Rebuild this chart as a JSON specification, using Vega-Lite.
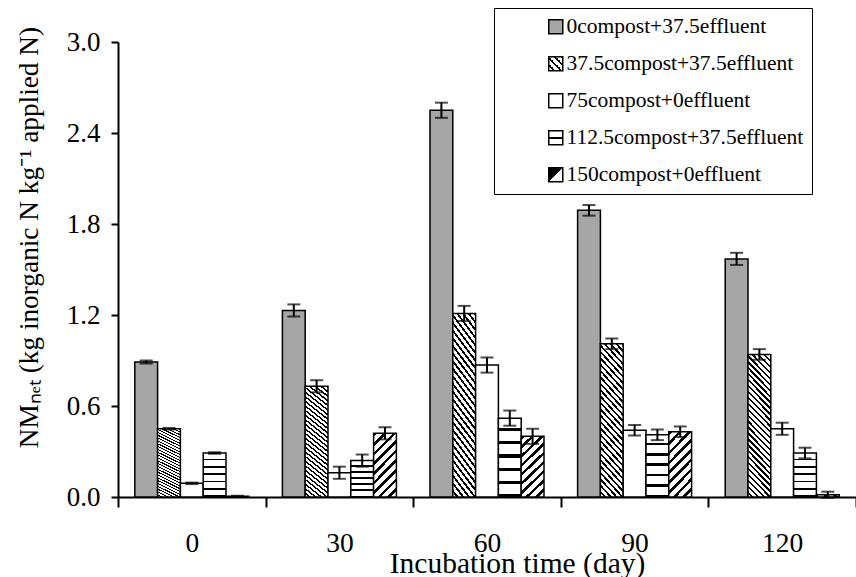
{
  "$schema": "https://vega.github.io/schema/vega-lite/v6.json",
  "width": 738,
  "height": 455,
  "autosize": {"type": "none"},
  "padding": {"left": 118, "top": 42, "right": 0, "bottom": 80},
  "background": "white",
  "config": {"view": {"stroke": null}, "font": "Liberation Serif"},
  "data": {
    "values": [
      {"day": 0, "trt": "0compost+37.5effluent", "value": 0.89, "err": 0.01},
      {"day": 0, "trt": "37.5compost+37.5effluent", "value": 0.45, "err": 0.005},
      {"day": 0, "trt": "75compost+0effluent", "value": 0.09, "err": 0.005},
      {"day": 0, "trt": "112.5compost+37.5effluent", "value": 0.29, "err": 0.005},
      {"day": 0, "trt": "150compost+0effluent", "value": 0.005, "err": 0.003},
      {"day": 30, "trt": "0compost+37.5effluent", "value": 1.23, "err": 0.04},
      {"day": 30, "trt": "37.5compost+37.5effluent", "value": 0.73, "err": 0.04},
      {"day": 30, "trt": "75compost+0effluent", "value": 0.16, "err": 0.04},
      {"day": 30, "trt": "112.5compost+37.5effluent", "value": 0.24, "err": 0.04},
      {"day": 30, "trt": "150compost+0effluent", "value": 0.42, "err": 0.04},
      {"day": 60, "trt": "0compost+37.5effluent", "value": 2.55, "err": 0.05},
      {"day": 60, "trt": "37.5compost+37.5effluent", "value": 1.21, "err": 0.05},
      {"day": 60, "trt": "75compost+0effluent", "value": 0.87, "err": 0.05},
      {"day": 60, "trt": "112.5compost+37.5effluent", "value": 0.52, "err": 0.05},
      {"day": 60, "trt": "150compost+0effluent", "value": 0.40, "err": 0.05},
      {"day": 90, "trt": "0compost+37.5effluent", "value": 1.89, "err": 0.035},
      {"day": 90, "trt": "37.5compost+37.5effluent", "value": 1.01, "err": 0.035},
      {"day": 90, "trt": "75compost+0effluent", "value": 0.44, "err": 0.035},
      {"day": 90, "trt": "112.5compost+37.5effluent", "value": 0.41, "err": 0.035},
      {"day": 90, "trt": "150compost+0effluent", "value": 0.43, "err": 0.035},
      {"day": 120, "trt": "0compost+37.5effluent", "value": 1.57, "err": 0.04},
      {"day": 120, "trt": "37.5compost+37.5effluent", "value": 0.94, "err": 0.035},
      {"day": 120, "trt": "75compost+0effluent", "value": 0.45, "err": 0.04},
      {"day": 120, "trt": "112.5compost+37.5effluent", "value": 0.29, "err": 0.035},
      {"day": 120, "trt": "150compost+0effluent", "value": 0.015, "err": 0.02}
    ]
  },
  "encoding": {
    "x": {
      "field": "day", "type": "ordinal",
      "scale": {"paddingInner": 0, "paddingOuter": 0},
      "axis": {
        "title": "Incubation time (day)",
        "labelAngle": 0, "tickBand": "extent", "tickSize": 10, "tickWidth": 2, "tickColor": "black",
        "domainColor": "black", "domainWidth": 2,
        "labelFont": "Liberation Serif", "labelFontSize": 27.5, "labelColor": "black",
        "labelBaseline": "alphabetic", "labelPadding": 44,
        "titleFont": "Liberation Serif", "titleFontSize": 29.5, "titleFontWeight": "normal", "titleColor": "black",
        "titleX": 399, "titleY": 75, "titleBaseline": "alphabetic", "titleAlign": "center"
      }
    },
    "xOffset": {
      "field": "trt", "type": "nominal",
      "scale": {"domain": ["0compost+37.5effluent", "37.5compost+37.5effluent", "75compost+0effluent", "112.5compost+37.5effluent", "150compost+0effluent"], "paddingInner": 0, "paddingOuter": 0.737}
    },
    "y": {
      "field": "value", "type": "quantitative",
      "scale": {"domain": [0, 3]},
      "axis": {
        "title": "NMₙₑₜ (kg inorganic N kg⁻¹ applied N)",
        "values": [0, 0.6, 1.2, 1.8, 2.4, 3.0], "format": ".1f", "grid": false,
        "tickSize": 7, "tickWidth": 2, "tickColor": "black",
        "domainColor": "black", "domainWidth": 2,
        "labelFont": "Liberation Serif", "labelFontSize": 27, "labelColor": "black", "labelPadding": 11,
        "titleFont": "Liberation Serif", "titleFontSize": 27.3, "titleFontWeight": "normal", "titleColor": "black",
        "titleX": -81, "titleY": 195, "titleBaseline": "alphabetic", "titleAlign": "center", "titleAngle": 270
      }
    }
  },
  "layer": [
    {
      "transform": [{"filter": "datum.trt === '0compost+37.5effluent'"}],
      "mark": {"type": "bar", "stroke": "black", "strokeWidth": 1.5, "fill": "#a6a6a6"}
    },
    {
      "transform": [{"filter": "datum.trt === '37.5compost+37.5effluent'"}],
      "mark": {"type": "bar", "stroke": "black", "strokeWidth": 1.5,
        "fill": {"gradient": "linear", "x1": 1, "y1": 0, "x2": 0.814, "y2": 1.133, "stops": [
          {"offset": 0, "color": "#000"}, {"offset": 0.0143, "color": "#000"}, {"offset": 0.0143, "color": "#fff"}, {"offset": 0.0357, "color": "#fff"},
          {"offset": 0.0357, "color": "#000"}, {"offset": 0.05, "color": "#000"}, {"offset": 0.05, "color": "#fff"}, {"offset": 0.0714, "color": "#fff"},
          {"offset": 0.0714, "color": "#000"}, {"offset": 0.0857, "color": "#000"}, {"offset": 0.0857, "color": "#fff"}, {"offset": 0.1071, "color": "#fff"},
          {"offset": 0.1071, "color": "#000"}, {"offset": 0.1214, "color": "#000"}, {"offset": 0.1214, "color": "#fff"}, {"offset": 0.1429, "color": "#fff"},
          {"offset": 0.1429, "color": "#000"}, {"offset": 0.1571, "color": "#000"}, {"offset": 0.1571, "color": "#fff"}, {"offset": 0.1786, "color": "#fff"},
          {"offset": 0.1786, "color": "#000"}, {"offset": 0.1929, "color": "#000"}, {"offset": 0.1929, "color": "#fff"}, {"offset": 0.2143, "color": "#fff"},
          {"offset": 0.2143, "color": "#000"}, {"offset": 0.2286, "color": "#000"}, {"offset": 0.2286, "color": "#fff"}, {"offset": 0.25, "color": "#fff"},
          {"offset": 0.25, "color": "#000"}, {"offset": 0.2643, "color": "#000"}, {"offset": 0.2643, "color": "#fff"}, {"offset": 0.2857, "color": "#fff"},
          {"offset": 0.2857, "color": "#000"}, {"offset": 0.3, "color": "#000"}, {"offset": 0.3, "color": "#fff"}, {"offset": 0.3214, "color": "#fff"},
          {"offset": 0.3214, "color": "#000"}, {"offset": 0.3357, "color": "#000"}, {"offset": 0.3357, "color": "#fff"}, {"offset": 0.3571, "color": "#fff"},
          {"offset": 0.3571, "color": "#000"}, {"offset": 0.3714, "color": "#000"}, {"offset": 0.3714, "color": "#fff"}, {"offset": 0.3929, "color": "#fff"},
          {"offset": 0.3929, "color": "#000"}, {"offset": 0.4071, "color": "#000"}, {"offset": 0.4071, "color": "#fff"}, {"offset": 0.4286, "color": "#fff"},
          {"offset": 0.4286, "color": "#000"}, {"offset": 0.4429, "color": "#000"}, {"offset": 0.4429, "color": "#fff"}, {"offset": 0.4643, "color": "#fff"},
          {"offset": 0.4643, "color": "#000"}, {"offset": 0.4786, "color": "#000"}, {"offset": 0.4786, "color": "#fff"}, {"offset": 0.5, "color": "#fff"},
          {"offset": 0.5, "color": "#000"}, {"offset": 0.5143, "color": "#000"}, {"offset": 0.5143, "color": "#fff"}, {"offset": 0.5357, "color": "#fff"},
          {"offset": 0.5357, "color": "#000"}, {"offset": 0.55, "color": "#000"}, {"offset": 0.55, "color": "#fff"}, {"offset": 0.5714, "color": "#fff"},
          {"offset": 0.5714, "color": "#000"}, {"offset": 0.5857, "color": "#000"}, {"offset": 0.5857, "color": "#fff"}, {"offset": 0.6071, "color": "#fff"},
          {"offset": 0.6071, "color": "#000"}, {"offset": 0.6214, "color": "#000"}, {"offset": 0.6214, "color": "#fff"}, {"offset": 0.6429, "color": "#fff"},
          {"offset": 0.6429, "color": "#000"}, {"offset": 0.6571, "color": "#000"}, {"offset": 0.6571, "color": "#fff"}, {"offset": 0.6786, "color": "#fff"},
          {"offset": 0.6786, "color": "#000"}, {"offset": 0.6929, "color": "#000"}, {"offset": 0.6929, "color": "#fff"}, {"offset": 0.7143, "color": "#fff"},
          {"offset": 0.7143, "color": "#000"}, {"offset": 0.7286, "color": "#000"}, {"offset": 0.7286, "color": "#fff"}, {"offset": 0.75, "color": "#fff"},
          {"offset": 0.75, "color": "#000"}, {"offset": 0.7643, "color": "#000"}, {"offset": 0.7643, "color": "#fff"}, {"offset": 0.7857, "color": "#fff"},
          {"offset": 0.7857, "color": "#000"}, {"offset": 0.8, "color": "#000"}, {"offset": 0.8, "color": "#fff"}, {"offset": 0.8214, "color": "#fff"},
          {"offset": 0.8214, "color": "#000"}, {"offset": 0.8357, "color": "#000"}, {"offset": 0.8357, "color": "#fff"}, {"offset": 0.8571, "color": "#fff"},
          {"offset": 0.8571, "color": "#000"}, {"offset": 0.8714, "color": "#000"}, {"offset": 0.8714, "color": "#fff"}, {"offset": 0.8929, "color": "#fff"},
          {"offset": 0.8929, "color": "#000"}, {"offset": 0.9071, "color": "#000"}, {"offset": 0.9071, "color": "#fff"}, {"offset": 0.9286, "color": "#fff"},
          {"offset": 0.9286, "color": "#000"}, {"offset": 0.9429, "color": "#000"}, {"offset": 0.9429, "color": "#fff"}, {"offset": 0.9643, "color": "#fff"},
          {"offset": 0.9643, "color": "#000"}, {"offset": 0.9786, "color": "#000"}, {"offset": 0.9786, "color": "#fff"}, {"offset": 1, "color": "#fff"}
        ]}
      }
    },
    {
      "transform": [{"filter": "datum.trt === '75compost+0effluent'"}],
      "mark": {"type": "bar", "stroke": "black", "strokeWidth": 1.5, "fill": "#ffffff"}
    },
    {
      "transform": [{"filter": "datum.trt === '112.5compost+37.5effluent'"}],
      "mark": {"type": "bar", "stroke": "black", "strokeWidth": 1.5,
        "fill": {"gradient": "linear", "x1": 0, "y1": 0, "x2": 0, "y2": 1, "stops": [
          {"offset": 0, "color": "#fff"}, {"offset": 0.1267, "color": "#fff"}, {"offset": 0.1267, "color": "#000"}, {"offset": 0.1667, "color": "#000"},
          {"offset": 0.1667, "color": "#fff"}, {"offset": 0.2933, "color": "#fff"}, {"offset": 0.2933, "color": "#000"}, {"offset": 0.3333, "color": "#000"},
          {"offset": 0.3333, "color": "#fff"}, {"offset": 0.46, "color": "#fff"}, {"offset": 0.46, "color": "#000"}, {"offset": 0.5, "color": "#000"},
          {"offset": 0.5, "color": "#fff"}, {"offset": 0.6267, "color": "#fff"}, {"offset": 0.6267, "color": "#000"}, {"offset": 0.6667, "color": "#000"},
          {"offset": 0.6667, "color": "#fff"}, {"offset": 0.7933, "color": "#fff"}, {"offset": 0.7933, "color": "#000"}, {"offset": 0.8333, "color": "#000"},
          {"offset": 0.8333, "color": "#fff"}, {"offset": 0.96, "color": "#fff"}, {"offset": 0.96, "color": "#000"}, {"offset": 1, "color": "#000"}
        ]}
      }
    },
    {
      "transform": [{"filter": "datum.trt === '150compost+0effluent'"}],
      "mark": {"type": "bar", "stroke": "black", "strokeWidth": 1.5,
        "fill": {"gradient": "linear", "x1": 0, "y1": 0, "x2": 0.433, "y2": 1.204, "stops": [
          {"offset": 0, "color": "#000"}, {"offset": 0.0422, "color": "#000"}, {"offset": 0.0422, "color": "#fff"}, {"offset": 0.1111, "color": "#fff"},
          {"offset": 0.1111, "color": "#000"}, {"offset": 0.1533, "color": "#000"}, {"offset": 0.1533, "color": "#fff"}, {"offset": 0.2222, "color": "#fff"},
          {"offset": 0.2222, "color": "#000"}, {"offset": 0.2644, "color": "#000"}, {"offset": 0.2644, "color": "#fff"}, {"offset": 0.3333, "color": "#fff"},
          {"offset": 0.3333, "color": "#000"}, {"offset": 0.3756, "color": "#000"}, {"offset": 0.3756, "color": "#fff"}, {"offset": 0.4444, "color": "#fff"},
          {"offset": 0.4444, "color": "#000"}, {"offset": 0.4867, "color": "#000"}, {"offset": 0.4867, "color": "#fff"}, {"offset": 0.5556, "color": "#fff"},
          {"offset": 0.5556, "color": "#000"}, {"offset": 0.5978, "color": "#000"}, {"offset": 0.5978, "color": "#fff"}, {"offset": 0.6667, "color": "#fff"},
          {"offset": 0.6667, "color": "#000"}, {"offset": 0.7089, "color": "#000"}, {"offset": 0.7089, "color": "#fff"}, {"offset": 0.7778, "color": "#fff"},
          {"offset": 0.7778, "color": "#000"}, {"offset": 0.82, "color": "#000"}, {"offset": 0.82, "color": "#fff"}, {"offset": 0.8889, "color": "#fff"},
          {"offset": 0.8889, "color": "#000"}, {"offset": 0.9311, "color": "#000"}, {"offset": 0.9311, "color": "#fff"}, {"offset": 1, "color": "#fff"}
        ]}
      }
    },
    {
      "mark": {"type": "errorbar", "ticks": {"size": 13, "thickness": 2, "color": "black"}, "rule": {"strokeWidth": 2, "color": "black"}},
      "encoding": {
        "yError": {"field": "err"}
      }
    },
    {
      "transform": [{"filter": "false"}],
      "mark": {"type": "bar", "stroke": "black", "strokeWidth": 1.5},
      "encoding": {
        "fill": {
          "field": "trt", "type": "nominal",
          "scale": {
            "domain": ["0compost+37.5effluent", "37.5compost+37.5effluent", "75compost+0effluent", "112.5compost+37.5effluent", "150compost+0effluent"],
            "range": [
              "#a6a6a6",
              {"expr": "{gradient: 'linear', x1: 1, y1: 0, x2: 0, y2: 1, stops: [{offset: 0, color: '#000'}, {offset: 0.09, color: '#000'}, {offset: 0.09, color: '#fff'}, {offset: 0.25, color: '#fff'}, {offset: 0.25, color: '#000'}, {offset: 0.34, color: '#000'}, {offset: 0.34, color: '#fff'}, {offset: 0.5, color: '#fff'}, {offset: 0.5, color: '#000'}, {offset: 0.59, color: '#000'}, {offset: 0.59, color: '#fff'}, {offset: 0.75, color: '#fff'}, {offset: 0.75, color: '#000'}, {offset: 0.84, color: '#000'}, {offset: 0.84, color: '#fff'}, {offset: 1, color: '#fff'}]}"},
              "#ffffff",
              {"expr": "{gradient: 'linear', x1: 0, y1: 0, x2: 0, y2: 1, stops: [{offset: 0, color: '#fff'}, {offset: 0.45, color: '#fff'}, {offset: 0.45, color: '#000'}, {offset: 0.62, color: '#000'}, {offset: 0.62, color: '#fff'}, {offset: 1, color: '#fff'}]}"},
              {"expr": "{gradient: 'linear', x1: 0, y1: 0, x2: 1, y2: 1, stops: [{offset: 0, color: '#000'}, {offset: 0.5, color: '#000'}, {offset: 0.5, color: '#fff'}, {offset: 1, color: '#fff'}]}"}
            ]
          },
          "legend": {
            "orient": "none", "legendX": 376, "legendY": -34, "title": null,
            "padding": 8, "strokeColor": "black", "fillColor": "white",
            "symbolType": "square", "symbolSize": 196, "symbolStrokeColor": "black", "symbolStrokeWidth": 1.5, "symbolOpacity": 1,
            "symbolOffset": 43, "labelOffset": 0,
            "labelFont": "Liberation Serif", "labelFontSize": 21.5, "labelColor": "black", "labelLimit": 400,
            "rowPadding": 14,
            "labelExpr": "datum.label + '\u00a0\u00a0\u00a0\u00a0\u00a0\u00a0'"
          }
        }
      }
    }
  ]
}
